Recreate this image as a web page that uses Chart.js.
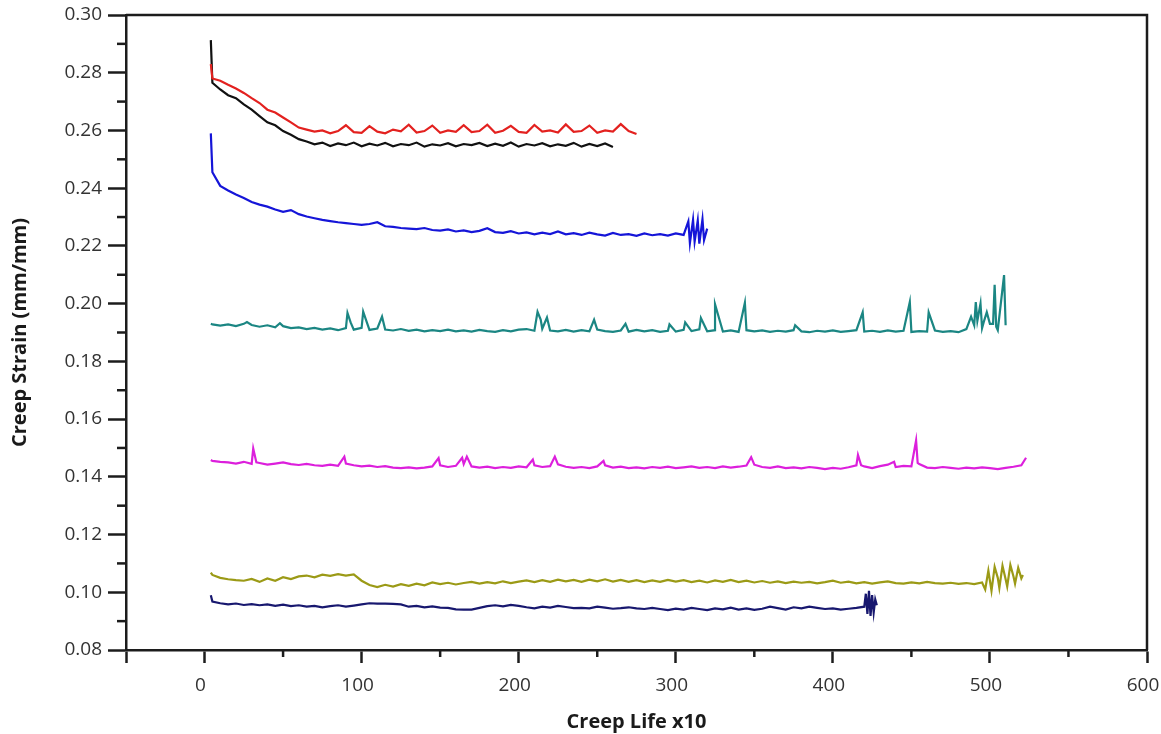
<!DOCTYPE html>
<html>
<head>
<meta charset="utf-8">
<script src="https://cdn.jsdelivr.net/npm/chart.js@4.4.1/dist/chart.umd.min.js"></script>
<style>
  html,body{margin:0;padding:0;background:#fff;}
  #wrap{width:1161px;height:734px;position:relative;}
</style>
</head>
<body>
<div id="wrap"><canvas id="c" width="1161" height="734"></canvas></div>
<script>
// ---------- DATA ----------
const lifeX = [4,5,10,15,20,25,30,35,40,45,50,55,60,65,70,75,80,85,90,95,100,
  105,110,115,120,125,130,135,140,145,150,155,160,165,170,175,180,185,190,195,200,
  205,210,215,220,225,230,235,240,245,250,255,260,265,270,275,280,285,290,295,300,
  305,310,315,320,325,330,335,340,345,350,355,360,365,370,375,380,385,390,395,400,
  405,410,415,420,425,430,435,440,445,450,455,460,465,470,475,480,485,490,495,500,
  505,510,515,520,525];

const xTickLabels = ['0','100','200','300','400','500','600'];
const yTickLabels = ['0.08','0.10','0.12','0.14','0.16','0.18','0.20','0.22','0.24','0.26','0.28','0.30'];

const redY = [0.2830,0.2780,0.2772,0.2758,0.2745,0.2730,0.2712,0.2695,0.2672,0.2662,0.2645,
  0.2628,0.2610,0.2603,0.2596,0.2600,0.2590,0.2598,0.2618,0.2594,0.2592,
  0.2615,0.2596,0.2590,0.2603,0.2597,0.2620,0.2593,0.2598,0.2617,0.2592,
  0.2600,0.2595,0.2618,0.2594,0.2598,0.2620,0.2592,0.2599,0.2616,0.2595,
  0.2592,0.2619,0.2596,0.2600,0.2593,0.2621,0.2595,0.2598,0.2617,0.2592,
  0.2600,0.2596,0.2622,0.2598,0.2588];

const blackY = [0.2913,0.2765,0.2742,0.2722,0.2712,0.2690,0.2672,0.2650,0.2628,0.2618,0.2598,
  0.2585,0.2570,0.2562,0.2552,0.2558,0.2546,0.2555,0.2549,0.2558,0.2545,
  0.2554,0.2548,0.2557,0.2545,0.2553,0.2549,0.2558,0.2544,0.2552,0.2548,
  0.2556,0.2545,0.2553,0.2549,0.2557,0.2546,0.2554,0.2547,0.2558,0.2544,
  0.2553,0.2548,0.2556,0.2545,0.2552,0.2547,0.2557,0.2544,0.2553,0.2546,
  0.2555,0.2543];

const blueY = [0.2590,0.2455,0.2408,0.2392,0.2378,0.2366,0.2352,0.2343,0.2336,0.2326,0.2318,
  0.2324,0.2310,0.2302,0.2296,0.2290,0.2286,0.2282,0.2279,0.2276,0.2273,
  0.2276,0.2282,0.2268,0.2266,0.2262,0.2260,0.2258,0.2262,0.2255,0.2253,
  0.2257,0.2250,0.2254,0.2248,0.2252,0.2261,0.2248,0.2245,0.2251,0.2243,
  0.2247,0.2240,0.2246,0.2241,0.2250,0.2240,0.2244,0.2238,0.2246,0.2240,
  0.2236,0.2245,0.2238,0.2241,0.2235,0.2243,0.2237,0.2241,0.2236,0.2243,
  0.2238];
const blueExtraX = [308,309,311,312,314,315,317,318,320];
const blueExtraY = [0.2285,0.2210,0.2290,0.2215,0.2288,0.2208,0.2292,0.2220,0.2260];

const tealY = [0.1930,0.1928,0.1924,0.1928,0.1922,0.1930,0.1926,0.1920,0.1925,0.1918,0.1922,
  0.1915,0.1918,0.1912,0.1916,0.1910,0.1914,0.1908,0.1915,0.1910,0.1916,
  0.1909,0.1914,0.1910,0.1907,0.1912,0.1906,0.1910,0.1904,0.1908,0.1905,
  0.1910,0.1904,0.1907,0.1903,0.1909,0.1905,0.1902,0.1908,0.1904,0.1910,
  0.1912,0.1906,0.1913,0.1907,0.1904,0.1909,0.1903,0.1908,0.1904,0.1910,
  0.1905,0.1902,0.1907,0.1903,0.1909,0.1904,0.1908,0.1902,0.1906,0.1903,
  0.1909,0.1905,0.1911,0.1904,0.1908,0.1903,0.1907,0.1902,0.1908,0.1904,
  0.1907,0.1902,0.1906,0.1903,0.1908,0.1904,0.1901,0.1906,0.1903,0.1907,
  0.1902,0.1905,0.1908,0.1903,0.1906,0.1902,0.1907,0.1903,0.1906,0.1902,
  0.1905,0.1903,0.1907,0.1902,0.1905,0.1901,0.1912,0.1925,0.1915,0.1930,
  0.1908,0.1925];
const tealExtraX = [27,48,91,93,101,103,113,212,214,218,248,268,296,306,316,325,344,376,
  419,449,461,488,491,492,494,496,498,502,503,504,509];
const tealExtraY = [0.1936,0.1932,0.1968,0.1935,0.1972,0.1940,0.1955,0.1972,0.1945,0.1952,0.1944,0.1930,0.1928,0.1935,0.1950,0.1998,0.2003,0.1925,
  0.1970,0.2006,0.1970,0.1955,0.2005,0.1940,0.2000,0.1935,0.1970,0.1930,0.2065,0.1920,0.2099];

const magentaY = [0.1458,0.1455,0.1452,0.1450,0.1446,0.1452,0.1445,0.1448,0.1442,0.1446,0.1450,
  0.1444,0.1441,0.1445,0.1440,0.1438,0.1442,0.1438,0.1446,0.1440,0.1436,
  0.1439,0.1434,0.1437,0.1432,0.1430,0.1433,0.1429,0.1432,0.1436,0.1440,
  0.1434,0.1438,0.1444,0.1436,0.1432,0.1435,0.1430,0.1434,0.1431,0.1436,
  0.1433,0.1440,0.1434,0.1437,0.1443,0.1435,0.1431,0.1434,0.1430,0.1436,
  0.1440,0.1432,0.1435,0.1430,0.1433,0.1429,0.1434,0.1431,0.1435,0.1430,
  0.1433,0.1436,0.1431,0.1434,0.1430,0.1436,0.1432,0.1435,0.1439,0.1442,
  0.1434,0.1431,0.1436,0.1430,0.1433,0.1429,0.1434,0.1431,0.1427,0.1431,
  0.1428,0.1433,0.1440,0.1436,0.1430,0.1437,0.1442,0.1434,0.1438,0.1436,
  0.1444,0.1432,0.1430,0.1434,0.1431,0.1428,0.1432,0.1429,0.1433,0.1430,
  0.1427,0.1431,0.1435,0.1440];
const magentaExtraX = [31,33,89,149,164,167,209,223,254,348,416,418,439,453,454,523];
const magentaExtraY = [0.1498,0.1450,0.1470,0.1465,0.1466,0.1470,0.1460,0.1470,0.1455,0.1468,0.1476,0.1440,0.1452,0.1526,0.1448,0.1466];

const oliveY = [0.1068,0.1060,0.1050,0.1045,0.1042,0.1040,0.1046,0.1036,0.1048,0.1040,0.1052,
  0.1046,0.1055,0.1058,0.1052,0.1061,0.1057,0.1063,0.1058,0.1062,0.1040,
  0.1025,0.1018,0.1026,0.1020,0.1028,0.1022,0.1030,0.1024,0.1034,0.1028,
  0.1033,0.1027,0.1032,0.1036,0.1030,0.1035,0.1031,0.1038,0.1032,0.1037,
  0.1041,0.1035,0.1042,0.1036,0.1044,0.1038,0.1043,0.1036,0.1044,0.1038,
  0.1045,0.1037,0.1043,0.1036,0.1042,0.1035,0.1041,0.1036,0.1043,0.1037,
  0.1042,0.1035,0.1040,0.1034,0.1041,0.1036,0.1043,0.1035,0.1040,0.1034,
  0.1039,0.1033,0.1038,0.1032,0.1037,0.1033,0.1036,0.1031,0.1035,0.1040,
  0.1033,0.1037,0.1031,0.1035,0.1030,0.1034,0.1038,0.1032,0.1030,0.1034,
  0.1031,0.1036,0.1032,0.1030,0.1033,0.1029,0.1032,0.1028,0.1034,0.1040,
  0.1050,0.1045,0.1055,0.1048];
const oliveExtraX = [497,499,501,503,506,508,511,513,516,518,521];
const oliveExtraY = [0.1010,0.1075,0.1005,0.1088,0.1015,0.1092,0.1020,0.1095,0.1030,0.1085,0.1060];

const navyY = [0.0990,0.0968,0.0962,0.0958,0.0961,0.0956,0.0959,0.0955,0.0958,0.0953,0.0957,
  0.0952,0.0955,0.0950,0.0953,0.0948,0.0952,0.0955,0.0950,0.0954,0.0958,
  0.0962,0.0961,0.0961,0.0960,0.0958,0.0950,0.0953,0.0948,0.0951,0.0947,
  0.0946,0.0941,0.0940,0.0940,0.0946,0.0952,0.0955,0.0951,0.0956,0.0953,
  0.0948,0.0944,0.0950,0.0947,0.0953,0.0949,0.0945,0.0946,0.0944,0.0950,
  0.0947,0.0943,0.0945,0.0948,0.0944,0.0942,0.0946,0.0942,0.0938,0.0943,
  0.0940,0.0946,0.0942,0.0938,0.0944,0.0941,0.0947,0.0940,0.0944,0.0939,
  0.0943,0.0950,0.0945,0.0940,0.0948,0.0944,0.0950,0.0946,0.0942,0.0944,
  0.0940,0.0943,0.0946,0.0950];
const navyExtraX = [421,422,423,424,425,426,427,428];
const navyExtraY = [0.0995,0.0925,0.1005,0.0918,0.0990,0.0930,0.0975,0.0955];

const minorXTicks = [50,150,250,350,450,550];
const minorYTicks = [0.09,0.11,0.13,0.15,0.17,0.19,0.21,0.23,0.25,0.27,0.29];

// ---------- BUILD ----------
function build(ys, ex, ey){
  const pts = ys.map((v,i)=>({x: lifeX[i], y: v}));
  if (ex) ex.forEach((x,i)=>pts.push({x:x, y:ey[i]}));
  pts.sort((a,b)=>a.x-b.x);
  return pts;
}
function ds(label, color, pts){
  return {label, data: pts, borderColor: color, backgroundColor: color,
    borderWidth: 2.2, pointRadius: 0, tension: 0, fill: false};
}

const AX = '#1c1c1c';
const framePlugin = {
  id: 'frame',
  afterDraw(chart){
    const {ctx, chartArea: a, scales: {x, y}} = chart;
    ctx.save();
    ctx.strokeStyle = AX; ctx.lineWidth = 2.5;
    ctx.beginPath();
    ctx.moveTo(a.left, a.top); ctx.lineTo(a.right, a.top); ctx.lineTo(a.right, a.bottom);
    ctx.stroke();
    minorXTicks.forEach(v=>{
      const px = x.getPixelForValue(v);
      ctx.beginPath(); ctx.moveTo(px, a.bottom); ctx.lineTo(px, a.bottom + 7); ctx.stroke();
    });
    minorYTicks.forEach(v=>{
      const py = y.getPixelForValue(v);
      ctx.beginPath(); ctx.moveTo(a.left - 9, py); ctx.lineTo(a.left, py); ctx.stroke();
    });
    ctx.restore();
  }
};

const tickFont = {family: '"Open Sans", "Liberation Sans", sans-serif', size: 19};
const titleFont = {family: '"Open Sans", "Liberation Sans", sans-serif', size: 20, weight: 'bold'};

new Chart(document.getElementById('c'), {
  type: 'line',
  data: {
    datasets: [
      ds('Red', '#e3211f', build(redY)),
      ds('Black', '#111111', build(blackY)),
      ds('Blue', '#1515d8', build(blueY, blueExtraX, blueExtraY)),
      ds('Teal', '#1b8683', build(tealY, tealExtraX, tealExtraY)),
      ds('Magenta', '#dc1fdc', build(magentaY, magentaExtraX, magentaExtraY)),
      ds('Olive', '#9b9a16', build(oliveY, oliveExtraX, oliveExtraY)),
      ds('Navy', '#18186f', build(navyY, navyExtraX, navyExtraY))
    ]
  },
  options: {
    responsive: false,
    animation: false,
    layout: {padding: {left: 0, right: 0, top: 15, bottom: 0}},
    plugins: {legend: {display: false}, tooltip: {enabled: false}},
    scales: {
      x: {
        type: 'linear', min: -50, max: 600,
        afterFit(s){ s.height = 84; s.paddingRight = 14; s.paddingLeft = 0; },
        ticks: {
          stepSize: 100, color: '#333', font: tickFont, padding: 11, maxRotation: 0, labelOffset: -4,
          callback: (v)=> { const i = xTickLabels.indexOf(String(v)); return i >= 0 ? xTickLabels[i] : ''; }
        },
        grid: {display: true, drawOnChartArea: false, drawTicks: true, tickLength: 13, tickWidth: 2.5, tickColor: AX},
        border: {display: true, color: AX, width: 2.5},
        title: {display: true, text: 'Creep Life x10', color: '#1a1a1a', font: titleFont, padding: {top: 0, bottom: 0}}
      },
      y: {
        type: 'linear', min: 0.08, max: 0.30,
        afterFit(s){ s.width = 126; s.paddingTop = 0; s.paddingBottom = 0; },
        ticks: {
          stepSize: 0.02, color: '#333', font: tickFont, padding: 6,
          callback: (v)=> { const t = Number(v).toFixed(2); return yTickLabels.includes(t) ? t : ''; }
        },
        grid: {display: true, drawOnChartArea: false, drawTicks: true, tickLength: 18, tickWidth: 2.5, tickColor: AX},
        border: {display: true, color: AX, width: 2.5},
        title: {display: true, text: 'Creep Strain (mm/mm)', color: '#1a1a1a', font: titleFont, padding: {top: 8, bottom: 8}}
      }
    }
  },
  plugins: [framePlugin]
});
</script>
</body>
</html>
